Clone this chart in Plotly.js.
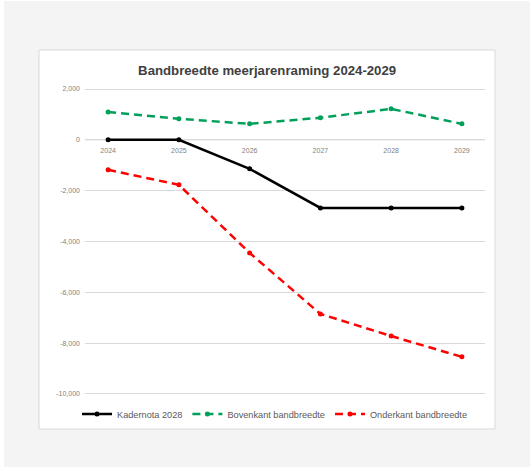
<!DOCTYPE html>
<html><head><meta charset="utf-8">
<script src="https://cdn.plot.ly/plotly-3.0.1.min.js"></script>
<style>html,body{margin:0;padding:0;background:#f4f4f4}</style>
</head><body>
<div id="chart" style="width:530px;height:467px"></div>
<script>
var years = ['2024','2025','2026','2027','2028','2029'];
var kadernota = [0, 0, -1140, -2680, -2680, -2680];
var bovenkant = [1100, 830, 630, 870, 1220, 630];
var onderkant = [-1180, -1770, -4450, -6850, -7720, -8540];
var yTicks = [2000, 0, -2000, -4000, -6000, -8000, -10000];
var yTickText = ['2,000', '0', '-2,000', '-4,000', '-6,000', '-8,000', '-10,000'];
var seriesNames = ['Kadernota 2028', 'Bovenkant bandbreedte', 'Onderkant bandbreedte'];

var traces = [
  {x: years, y: kadernota, name: seriesNames[0], type: 'scatter', mode: 'lines+markers',
   line: {color: '#000000', width: 2.5}, marker: {color: '#000000', size: 5}},
  {x: years, y: bovenkant, name: seriesNames[1], type: 'scatter', mode: 'lines+markers',
   line: {color: '#00a05a', width: 2.5, dash: '8px,5px'}, marker: {color: '#00a05a', size: 5}},
  {x: years, y: onderkant, name: seriesNames[2], type: 'scatter', mode: 'lines+markers',
   line: {color: '#ff0000', width: 2.5, dash: '8px,5px'}, marker: {color: '#ff0000', size: 5}}
];

// plot area: y 87..396 px, range -10080..2080
var layout = {
  width: 530, height: 467,
  paper_bgcolor: '#f4f4f4', plot_bgcolor: 'rgba(0,0,0,0)',
  margin: {l: 85, r: 45, t: 87, b: 71},
  font: {family: 'Liberation Sans, Arial, sans-serif', color: '#595959', size: 7},
  title: {text: 'Bandbreedte meerjarenraming 2024-2029', x: 0.504, xanchor: 'center',
          y: 0.85, yanchor: 'middle', yref: 'container',
          font: {family: 'Liberation Sans, Arial, sans-serif', size: 13.2, color: '#404040', weight: 'bold'}},
  xaxis: {type: 'category', anchor: 'free', position: 0.8355, showgrid: false,
          showline: false, ticks: '', ticklabelstandoff: 7,
          tickfont: {size: 7, color: '#7f7f7f'}, fixedrange: true},
  yaxis: {range: [-10080, 2080], tickvals: yTicks, ticktext: yTickText, showgrid: true,
          gridcolor: '#d9d9d9', gridwidth: 1, zeroline: true, zerolinecolor: '#d9d9d9', zerolinewidth: 1,
          showline: false, ticks: '',
          ticklabelstandoff: 4, tickfont: {size: 7, color: '#7f7f7f'}},
  showlegend: true,
  legend: {orientation: 'h', x: 0.475, xanchor: 'center', y: -0.058, yanchor: 'middle',
           font: {size: 9.2, color: '#595959'}, bgcolor: 'rgba(0,0,0,0)', traceorder: 'normal'},
  shapes: [
    {type: 'rect', xref: 'paper', yref: 'paper', x0: -0.115, x1: 1.025, y0: -0.1068, y1: 1.1197,
     fillcolor: '#ffffff', line: {color: '#d9d9d9', width: 1}, layer: 'below'},
    {type: 'rect', xref: 'paper', yref: 'paper', x0: -0.3, x1: 1.2, y0: 1.2783, y1: 1.4,
     fillcolor: '#ffffff', line: {width: 0}, layer: 'below'},
    {type: 'rect', xref: 'paper', yref: 'paper', x0: -0.3, x1: -0.2025, y0: -0.3, y1: 1.4,
     fillcolor: '#ffffff', line: {width: 0}, layer: 'below'},
    {type: 'line', xref: 'paper', yref: 'y', x0: 0, x1: 1, y0: 0, y1: 0,
     line: {color: '#d9d9d9', width: 1}, layer: 'below'}
  ]
};
Plotly.newPlot('chart', traces, layout, {displayModeBar: false, staticPlot: true});
</script>
</body></html>
